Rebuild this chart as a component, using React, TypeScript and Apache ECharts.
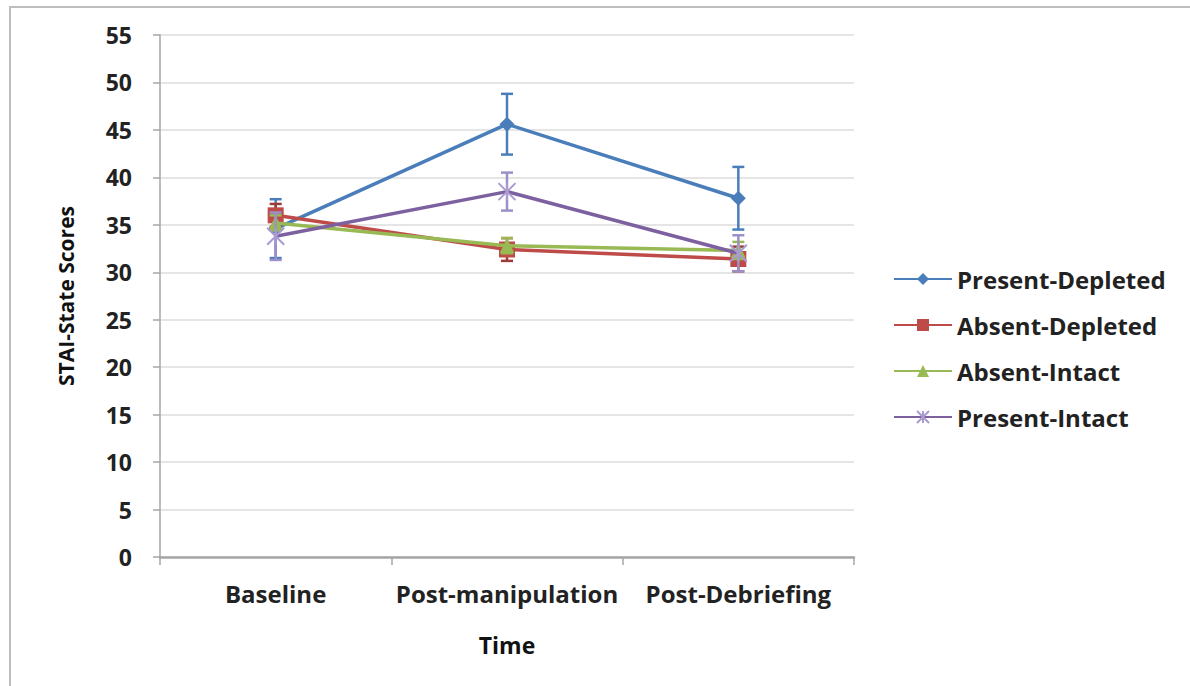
import React, { useEffect, useRef } from "react";
import * as echarts from "echarts";

const categories = ["Baseline", "Post-manipulation", "Post-Debriefing"];
const seriesNames = ["Present-Depleted", "Absent-Depleted", "Absent-Intact", "Present-Intact"];
const presentDepleted = [34.6, 45.6, 37.8];
const presentDepletedErr = [3.1, 3.2, 3.3];
const absentDepleted = [36.0, 32.4, 31.4];
const absentDepletedErr = [1.2, 1.2, 1.3];
const absentIntact = [35.2, 32.8, 32.3];
const absentIntactErr = [0.8, 0.8, 0.9];
const presentIntact = [33.8, 38.5, 32.0];
const presentIntactErr = [2.5, 2.0, 1.9];
const yTicks = [0, 5, 10, 15, 20, 25, 30, 35, 40, 45, 50, 55];

const lineColors = ["#4A7EBB", "#BE4B48", "#98B954", "#7D60A0"];
const markerColors = ["#4A7EBB", "#BE4B48", "#98B954", "#A99BD1"];
const errColors = ["#4A7EBB", "#9E3B38", "#98B954", "#9C90C8"];
const symbols = ["diamond", "rect", "triangle", "path://M0,0L10,10M10,0L0,10M5,0L5,10"];
const symbolSizes = [15, 16, 15, 17];

const values = [presentDepleted, absentDepleted, absentIntact, presentIntact];
const errs = [presentDepletedErr, absentDepletedErr, absentIntactErr, presentIntactErr];

export default function App() {
  const ref = useRef<HTMLDivElement>(null);
  useEffect(() => {
    if (!ref.current) return;
    const chart = echarts.init(ref.current, undefined, { renderer: "svg" });
    const font = "'Open Sans', Lato, sans-serif";
    const series: any[] = [];
    values.forEach((vals, i) => {
      const err = errs[i];
      series.push({
        type: "custom",
        name: "err-" + seriesNames[i],
        z: 2 + i * 2,
        data: vals.map((v, j) => [j, v - err[j], v + err[j]]),
        encode: { x: 0, y: [1, 2] },
        renderItem: (params: any, api: any) => {
          const x = api.value(0);
          const lo = api.coord([x, api.value(1)]);
          const hi = api.coord([x, api.value(2)]);
          const w = 6;
          const st = { stroke: errColors[i], lineWidth: 2.5 };
          return {
            type: "group",
            children: [
              { type: "line", shape: { x1: lo[0], y1: lo[1], x2: hi[0], y2: hi[1] }, style: st },
              { type: "line", shape: { x1: lo[0] - w, y1: lo[1], x2: lo[0] + w, y2: lo[1] }, style: st },
              { type: "line", shape: { x1: hi[0] - w, y1: hi[1], x2: hi[0] + w, y2: hi[1] }, style: st },
            ],
          };
        },
      });
      series.push({
        type: "line",
        name: seriesNames[i],
        z: 3 + i * 2,
        data: vals,
        symbol: symbols[i],
        symbolSize: symbolSizes[i],
        showAllSymbol: true,
        lineStyle: { color: lineColors[i], width: 3.5 },
        itemStyle: i === 3
          ? { color: markerColors[i], borderColor: markerColors[i], borderWidth: 2 }
          : { color: markerColors[i], borderColor: markerColors[i], borderWidth: 0 },
        emphasis: { disabled: true },
      });
    });

    chart.setOption({
      animation: false,
      backgroundColor: "#ffffff",
      textStyle: { fontFamily: font },
      graphic: [
        {
          type: "rect",
          shape: { x: 10, y: 7, width: 1220, height: 720 },
          style: { fill: "none", stroke: "#BDBDBD", lineWidth: 2 },
          silent: true,
        },
      ],
      grid: { left: 160, right: 336, top: 35, bottom: 129 },
      legend: {
        orient: "vertical",
        left: 888,
        top: 261,
        itemWidth: 58,
        itemHeight: 15,
        itemGap: 20,
        data: seriesNames,
        textStyle: { fontSize: 24, fontWeight: "bold", color: "#222", fontFamily: font, lineHeight: 26 },
      },
      xAxis: {
        type: "category",
        data: categories,
        boundaryGap: true,
        name: "Time",
        nameLocation: "middle",
        nameGap: 76,
        nameTextStyle: { fontSize: 23, fontWeight: "bold", color: "#111", fontFamily: font },
        axisLine: { lineStyle: { color: "#A6A6A6", width: 2.5 } },
        axisTick: { show: true, alignWithLabel: false, length: 8, lineStyle: { color: "#A6A6A6", width: 1.5 } },
        axisLabel: {
          interval: 0,
          hideOverlap: false,
          fontSize: 24,
          fontWeight: "bold",
          color: "#222",
          margin: 24,
          fontFamily: font,
        },
        splitLine: { show: false },
      },
      yAxis: {
        type: "value",
        min: 0,
        max: 55,
        interval: 5,
        name: "STAI-State Scores",
        nameLocation: "middle",
        nameGap: 84,
        nameTextStyle: { fontSize: 21, fontWeight: "bold", color: "#111", fontFamily: font },
        axisLine: { show: true, lineStyle: { color: "#A6A6A6", width: 1.5 } },
        axisTick: { show: true, length: 7, lineStyle: { color: "#A6A6A6", width: 1.5 } },
        axisLabel: {
          fontSize: 23,
          fontWeight: "bold",
          color: "#222",
          margin: 28,
          fontFamily: font,
          formatter: (v: number) => (yTicks.includes(v) ? String(v) : ""),
        },
        splitLine: { show: true, lineStyle: { color: "#DDDDDD", width: 1.5 } },
      },
      series,
    });
    return () => chart.dispose();
  }, []);
  return (
    <div
      ref={ref}
      style={{ position: "fixed", left: 0, top: 0, width: 1190, height: 686, background: "#fff" }}
    />
  );
}
